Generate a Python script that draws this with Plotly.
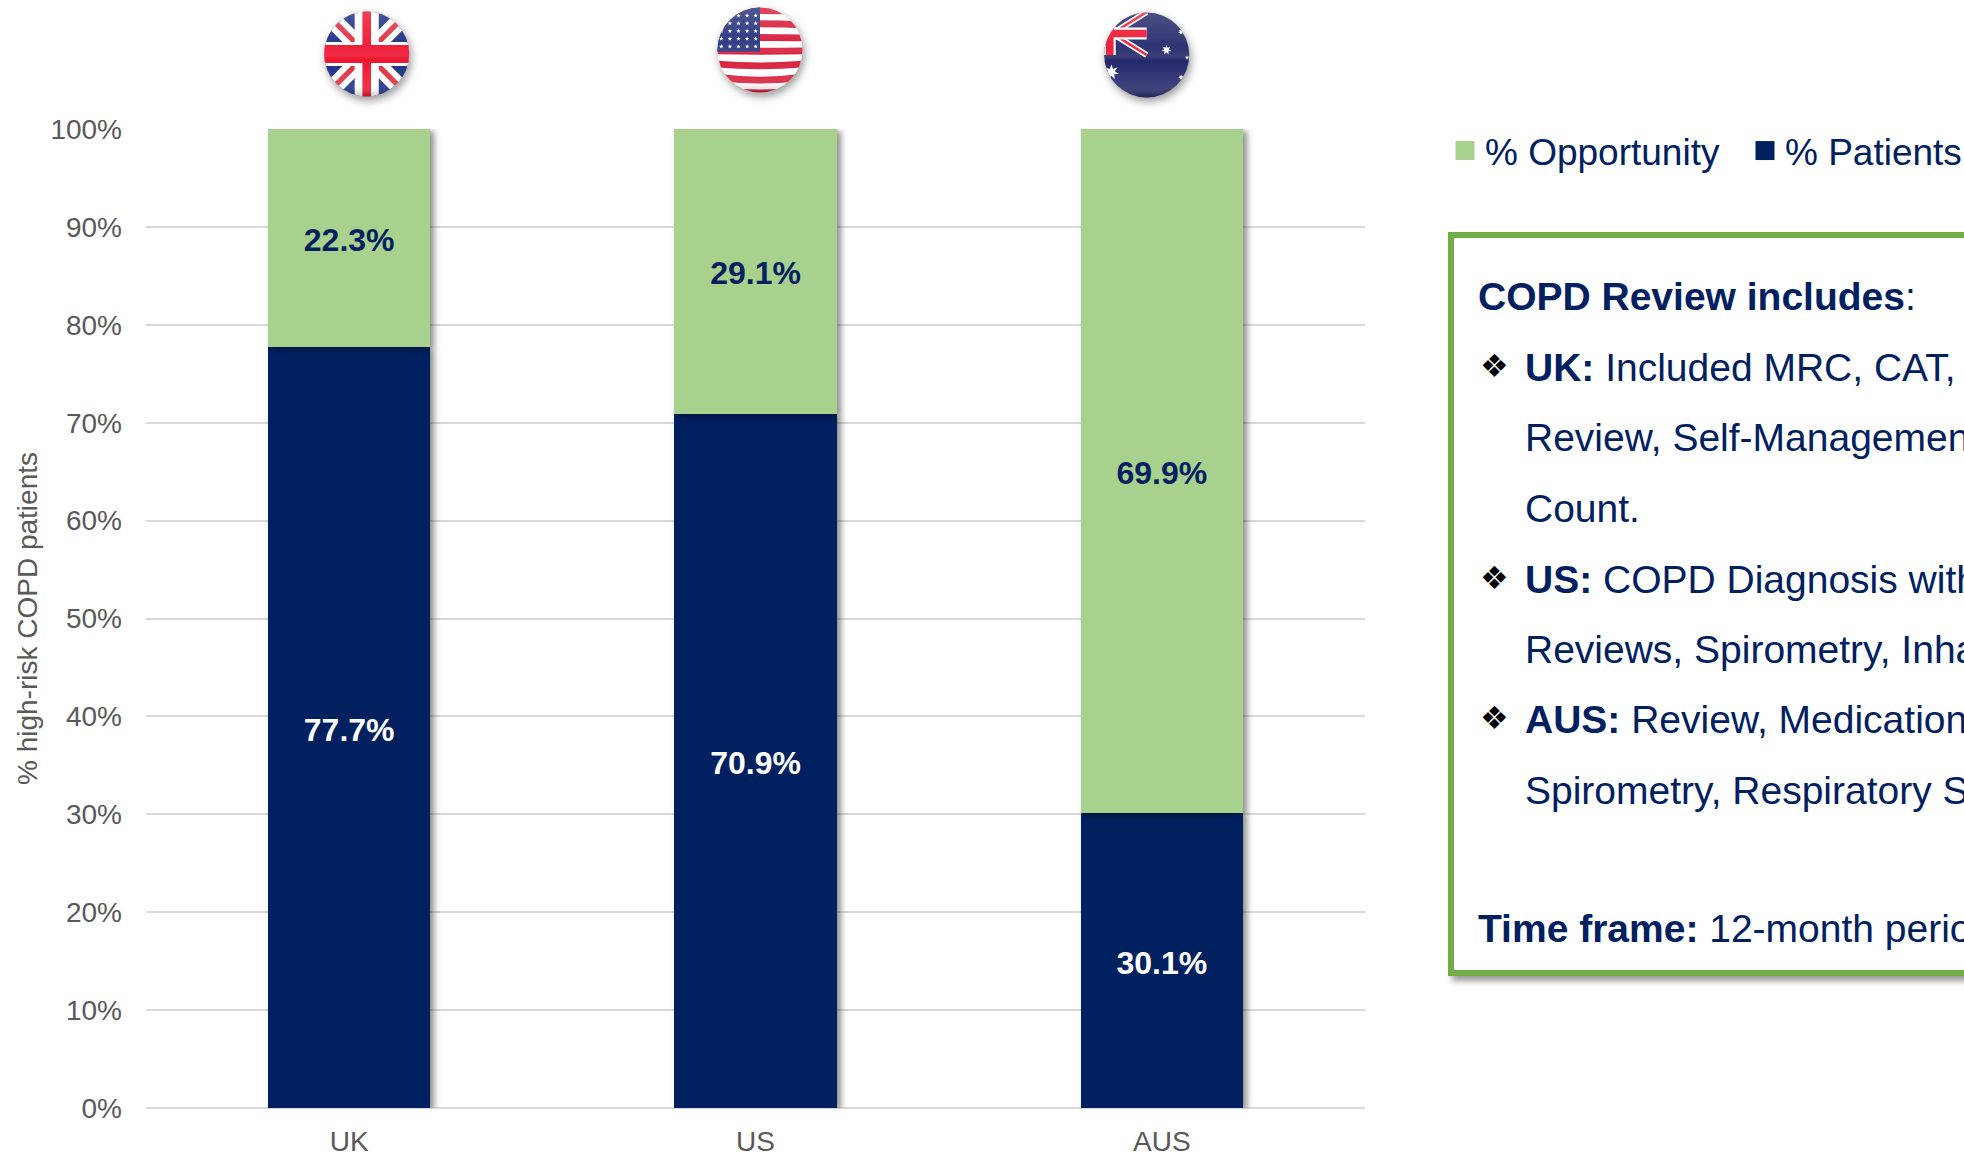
import math
import plotly.graph_objects as go

W, H = 1964, 1154
L, R, T, B = 146, 1365, 129, 1108

countries = ["UK", "US", "AUS"]
patients = [77.7, 70.9, 30.1]
opportunity = [22.3, 29.1, 69.9]
tick_vals = [0, 10, 20, 30, 40, 50, 60, 70, 80, 90, 100]
tick_text = [f"{v}%" for v in tick_vals]

NAVY = "#002060"
GREEN = "#A9D18E"
BORDER = "#70AD47"
GREY = "#595959"
GRID = "#D9D9D9"
FONT = "Liberation Sans, Arial, sans-serif"

box_lines = [
    ("<b>COPD Review includes</b>:", 297, False, False),
    ("<b>UK:</b> Included MRC, CAT,", 367, True, True),
    ("Review, Self-Management", 437, False, True),
    ("Count.", 508, False, True),
    ("<b>US:</b> COPD Diagnosis with", 579, True, True),
    ("Reviews, Spirometry, Inhaler", 649, False, True),
    ("<b>AUS:</b> Review, Medication", 719, True, True),
    ("Spirometry, Respiratory S", 790, False, True),
    ("<b>Time frame:</b> 12-month period", 928, False, False),
]


def px(x):
    return (x - L) / (R - L)


def py(y):
    return (B - y) / (B - T)


def star(cx, cy, r, n=7):
    pts = []
    for i in range(2 * n):
        a = math.pi * i / n - math.pi / 2
        rad = r if i % 2 == 0 else r * 0.45
        pts.append(f"{cx + rad * math.cos(a):.1f},{cy + rad * math.sin(a):.1f}")
    return f"<polygon points='{' '.join(pts)}' fill='white'/>"


def flag_uri(body, gloss=True):
    overlay = "<rect width='100' height='100' fill='url(#g)'/>" if gloss else ""
    svg = (
        "<svg xmlns='http://www.w3.org/2000/svg' width='100' height='100' viewBox='0 0 100 100'>"
        "<defs><clipPath id='c'><circle cx='50' cy='50' r='49.5'/></clipPath>"
        "<linearGradient id='g' x1='0' y1='0' x2='0' y2='1'>"
        "<stop offset='0' stop-color='white' stop-opacity='.18'/>"
        "<stop offset='.4' stop-color='white' stop-opacity='.05'/>"
        "<stop offset='.52' stop-color='white' stop-opacity='.1'/>"
        "<stop offset='.56' stop-color='white' stop-opacity='0'/>"
        "<stop offset='.88' stop-color='white' stop-opacity='.12'/>"
        "<stop offset='1' stop-color='black' stop-opacity='.25'/>"
        "</linearGradient></defs>"
        f"<g clip-path='url(#c)'>{body}{overlay}</g>"
        "</svg>"
    )
    return "data:image/svg+xml," + svg.replace("#", "%23").replace("<", "%3C").replace(">", "%3E")


uk = (
    "<rect width='100' height='100' fill='#1c2f86'/>"
    "<path d='M0 0L100 100M100 0L0 100' stroke='white' stroke-width='20'/>"
    "<path d='M8 8L40 40M92 8L60 40M8 92L40 60M92 92L60 60' stroke='#e03040' stroke-width='6'/>"
    "<path d='M50 0V100M0 50H100' stroke='white' stroke-width='28'/>"
    "<path d='M50 0V100' stroke='#ee1530' stroke-width='10'/>"
    "<path d='M0 50H100' stroke='#ee1530' stroke-width='21'/>"
)
us_stripes = "".join(
    f"<path d='M-5 {y} Q50 {y + b} 105 {y} V{y + 8} Q50 {y + 8 + b} -5 {y + 8} Z' fill='#d81e3c'/>"
    for y, b in [(2, -4), (17, -3), (32, -1), (47, 1), (62, 5), (77, 8), (92, 8)]
)
us_stars = "".join(
    star(x, y, 2.6, 5) for y in range(10, 52, 9) for x in range(5, 48, 10)
)
us = (
    "<rect width='100' height='100' fill='white'/>" + us_stripes
    + "<rect width='50' height='52' fill='#27337f'/>" + us_stars
)
au = (
    "<rect width='100' height='100' fill='#25296b'/>"
    "<path d='M10 25L50 0M10 25L50 50' stroke='white' stroke-width='7'/>"
    "<path d='M10 25L50 0M10 25L50 50' stroke='#ee1530' stroke-width='3'/>"
    "<path d='M7 0V50M0 25H50' stroke='white' stroke-width='14'/>"
    "<path d='M7 0V50M0 25H50' stroke='#ee1530' stroke-width='9'/>"
    + star(73, 44, 6) + star(9, 70, 9) + star(90, 23, 3.5) + star(97, 53, 2.5) + star(90, 76, 3.5)
)
flags = [(uk, 366.7, 54), (us, 760, 50), (au, 1146.7, 55)]

fig = go.Figure()
fig.add_bar(
    name="% Patients", x=countries, y=patients, marker_color=NAVY, marker_line_width=0,
    text=[f"{v:.1f}%" for v in patients], textposition="inside", insidetextanchor="middle",
    textangle=0, textfont=dict(color="white", size=32, family=FONT, weight="bold"),
    constraintext="none", cliponaxis=False,
)
fig.add_bar(
    name="% Opportunity", x=countries, y=opportunity, marker_color=GREEN, marker_line_width=0,
    text=[f"{v:.1f}%" for v in opportunity], textposition="inside", insidetextanchor="middle",
    textangle=0, textfont=dict(color=NAVY, size=32, family=FONT, weight="bold"),
    constraintext="none", cliponaxis=False,
)

annotations = []
for text, y, bullet, indented in box_lines:
    annotations.append(dict(
        xref="paper", yref="paper", x=px(1523.5 if indented else 1475.5), y=py(y),
        xanchor="left", yanchor="middle", showarrow=False, align="left", text=text,
        font=dict(family=FONT, size=39, color=NAVY),
    ))
    if bullet:
        annotations.append(dict(
            xref="paper", yref="paper", x=px(1494), y=py(y - 1), xanchor="center", yanchor="middle",
            showarrow=False, text="\u2756",
            font=dict(family="DejaVu Sans", size=32, color="black"),
        ))

fig.update_layout(
    width=W, height=H, margin=dict(l=L, r=W - R, t=T, b=H - B, autoexpand=False),
    paper_bgcolor="white", plot_bgcolor="white", barmode="stack", bargap=0.6,
    font=dict(family=FONT, color=GREY, size=28), hovermode=False,
    xaxis=dict(showgrid=False, showline=False, ticks="", tickfont=dict(size=28, color=GREY),
               ticklabelstandoff=14, zeroline=False, automargin=False),
    yaxis=dict(range=[0, 100], tickvals=tick_vals, ticktext=tick_text, gridcolor=GRID, gridwidth=2,
               zeroline=True, zerolinecolor=GRID, zerolinewidth=2, showline=False, automargin=False,
               tickfont=dict(size=28, color=GREY), ticklabelstandoff=23,
               title=dict(text="% high-risk COPD patients", standoff=4,
                          font=dict(size=28, color=GREY))),
    legend=dict(orientation="h", traceorder="reversed", xref="paper", yref="paper",
                x=px(1445), y=py(120), xanchor="left", yanchor="top",
                font=dict(size=37, color=NAVY, family=FONT), entrywidth=255,
                entrywidthmode="pixels", itemclick=False, itemdoubleclick=False,
                bgcolor="rgba(0,0,0,0)"),
    shapes=[dict(type="rect", xref="paper", yref="paper", x0=px(1451), x1=px(2100), y0=py(235), y1=py(973),
                 line=dict(color=BORDER, width=6), fillcolor="white", layer="above")],
    annotations=annotations,
    images=[dict(source=flag_uri(b), xref="paper", yref="paper", x=px(cx - 43), y=py(cy - 43),
                 sizex=86 / (R - L), sizey=86 / (B - T), xanchor="left", yanchor="top",
                 sizing="stretch", layer="above") for b, cx, cy in flags],
)

post = """
document.body.style.margin='0';
document.documentElement.style.overflow='hidden';
var style=document.createElement('style');
style.textContent=".bars .point path{filter:drop-shadow(4px 2px 3px rgba(0,0,0,.45));}"
+".bars text{translate:0 2px;}"
+".shapelayer path{filter:drop-shadow(4px 5px 3px rgba(0,0,0,.4));}"
+".layer-above image{filter:drop-shadow(2px 4px 4px rgba(0,0,0,.4));}";
document.head.appendChild(style);
document.querySelectorAll('.legendpoints path').forEach(function(p){p.setAttribute('d','M9.5,9.5H-9.5V-9.5H9.5Z');});
"""
fig.write_html("out.html", post_script=post, config={"displayModeBar": False})
